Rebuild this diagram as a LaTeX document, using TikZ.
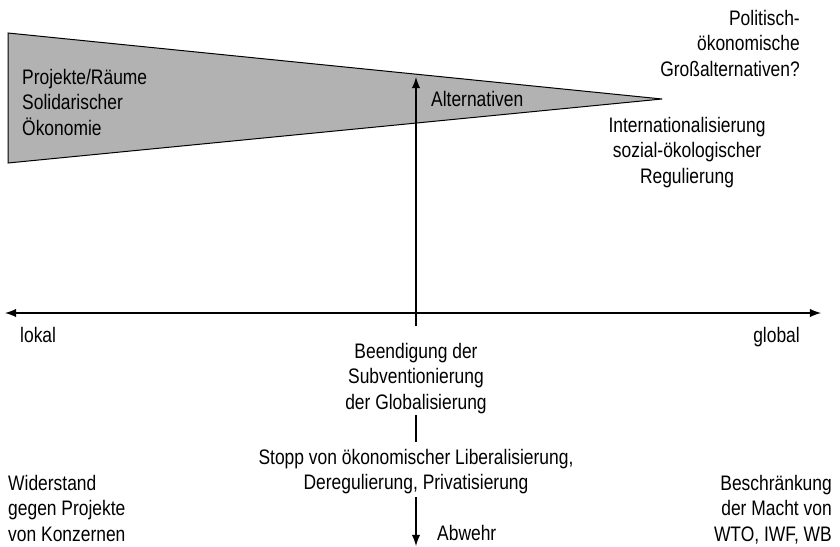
\documentclass[tikz,border=0pt]{standalone}
\usepackage{fontspec}
\setmainfont[FakeStretch=0.83]{Liberation Sans}

\begin{document}
\begin{tikzpicture}[x=1pt,y=-1pt,>=latex,
    lbl/.style={inner sep=0pt,font=\fontsize{21}{25.5}\selectfont},
    axis/.style={line width=2.8pt}]
\useasboundingbox (0,0) rectangle (840,546);

% Keil
\filldraw[fill=black!30,draw=black,line width=1pt] (8,33) -- (662,99) -- (8,163) -- cycle;

\coordinate (links) at (5,313);
\coordinate (rechts) at (821,313);
\coordinate (fuss) at (416,326);
\coordinate (spitze) at (416,77);
\coordinate (unten) at (416,546);

\draw[axis,<->] (links) -- (rechts);
\draw[axis,->] (fuss) -- (spitze);

\node[lbl,anchor=north west,align=left] (solid) at (22,69) {Projekte/Räume\\Solidarischer\\Ökonomie};
\node[lbl,anchor=north west] (alt) at (431,91) {Alternativen};
\node[lbl,anchor=north east,align=right] (gross) at (800,10) {Politisch-\\ökonomische\\Großalternativen?};
\node[lbl,anchor=north,align=center] (intern) at (687,117) {Internationalisierung\\sozial-ökologischer\\Regulierung};

\node[lbl,anchor=north west] (lokal) at (20,327) {lokal};
\node[lbl,anchor=north east] (global) at (800,327) {global};

\node[lbl,anchor=north,align=center] (beend) at (416,343) {Beendigung der\\Subventionierung\\der Globalisierung};
\node[lbl,anchor=north,align=center] (stopp) at (416,449) {Stopp von ökonomischer Liberalisierung,\\Deregulierung, Privatisierung};
\node[lbl,anchor=north west] (abwehr) at (437,525) {Abwehr};

\node[lbl,anchor=north west,align=left] (widerstand) at (8,475) {Widerstand\\gegen Projekte\\von Konzernen};
\node[lbl,anchor=north east,align=right] (beschr) at (832,475) {Beschränkung\\der Macht von\\WTO, IWF, WB};

\draw[axis,shorten <=1pt,shorten >=7pt] (beend) -- (stopp);
\draw[axis,->,shorten <=3pt] (stopp) -- (unten);
\end{tikzpicture}
\end{document}
